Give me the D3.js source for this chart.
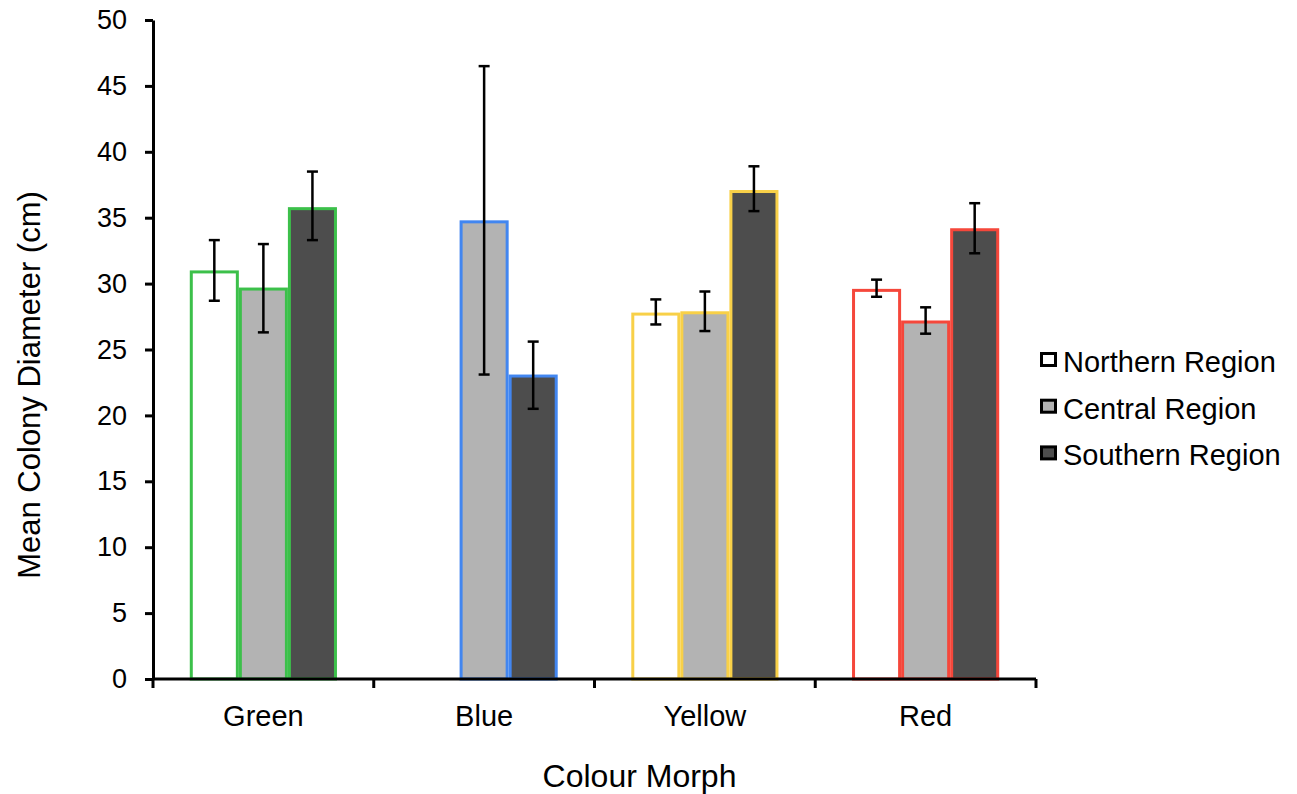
<!DOCTYPE html>
<html><head><meta charset="utf-8">
<script src="https://cdn.jsdelivr.net/npm/d3@7"></script>
<style>body{margin:0;background:#fff}svg{font-family:"Liberation Sans",Arial,sans-serif}</style>
</head><body><svg id="c" width="1297" height="794"></svg>
<script>
const categories = ["Green","Blue","Yellow","Red"];
const outlineColors = ["#3cc04a","#4286f0","#f8d048","#f5473b"];
const regions = ["Northern Region","Central Region","Southern Region"];
const regionFills = ["#ffffff","#b3b3b3","#4d4d4d"];
const northern = [31.0, null, 27.8, 29.6];
const central  = [29.7, 34.8, 27.9, 27.2];
const southern = [35.8, 23.1, 37.1, 34.2];
const northernLo = [28.7, null, 26.9, 29.0];
const northernHi = [33.3, null, 28.8, 30.3];
const centralLo  = [26.3, 23.1, 26.4, 26.2];
const centralHi  = [33.0, 46.5, 29.4, 28.2];
const southernLo = [33.3, 20.5, 35.5, 32.3];
const southernHi = [38.5, 25.6, 38.9, 36.1];
const yTicks = [0,5,10,15,20,25,30,35,40,45,50];

const svg = d3.select("#c");
const m = {l:153, r:1036, t:20, b:679};
const x = d3.scaleBand().domain(categories).range([m.l, m.r]).paddingInner(0).paddingOuter(0);
const xs = d3.scaleBand().domain(regions).range([0, x.bandwidth()]).paddingOuter(0.75).paddingInner(0);
const y = d3.scaleLinear().domain([0,50]).range([m.b, m.t]);

const series = [
  {v:northern, lo:northernLo, hi:northernHi},
  {v:central, lo:centralLo, hi:centralHi},
  {v:southern, lo:southernLo, hi:southernHi}
];

const g = svg.append("g");
series.forEach((s, si) => {
  categories.forEach((c, ci) => {
    if (s.v[ci] == null) return;
    const bx = x(c) + xs(regions[si]);
    g.append("rect")
      .attr("x", bx + 1.5).attr("y", y(s.v[ci]) + 1.5)
      .attr("width", xs.bandwidth() - 3).attr("height", y(0) - y(s.v[ci]) - 1.5)
      .attr("fill", regionFills[si]).attr("stroke", outlineColors[ci]).attr("stroke-width", 3);
  });
});
// error bars
series.forEach((s, si) => {
  categories.forEach((c, ci) => {
    if (s.v[ci] == null) return;
    const cx = x(c) + xs(regions[si]) + xs.bandwidth()/2;
    const eg = g.append("g").attr("stroke","#000").attr("stroke-width",2.5);
    eg.append("line").attr("x1",cx).attr("x2",cx).attr("y1",y(s.lo[ci])).attr("y2",y(s.hi[ci]));
    [s.lo[ci], s.hi[ci]].forEach(v => eg.append("line").attr("x1",cx-5.5).attr("x2",cx+5.5).attr("y1",y(v)).attr("y2",y(v)));
  });
});

// y axis
const ya = svg.append("g").attr("transform",`translate(${m.l},0)`)
  .call(d3.axisLeft(y).tickValues(yTicks).tickSize(8).tickSizeOuter(0).tickPadding(18));
ya.select(".domain").attr("stroke","#000").attr("stroke-width",3);
ya.selectAll(".tick line").attr("stroke","#000").attr("stroke-width",3);
ya.selectAll(".tick text").attr("font-size",27).attr("fill","#000").attr("font-family","Liberation Sans, Arial, sans-serif");

// x axis
const xa = svg.append("g").attr("transform",`translate(0,${m.b})`)
  .call(d3.axisBottom(x).tickSize(0));
xa.select(".domain").attr("stroke","#000").attr("stroke-width",3).attr("d",`M${m.l},0H${m.r}`);
xa.selectAll(".tick text").attr("font-size",29).attr("fill","#000").attr("y",47).attr("dy",0)
  .attr("font-family","Liberation Sans, Arial, sans-serif");
const bounds = categories.map(c => x(c)).concat([x(categories[categories.length-1]) + x.bandwidth()]);
xa.selectAll(".bt").data(bounds).enter().append("line")
  .attr("x1",d=>d).attr("x2",d=>d).attr("y1",0).attr("y2",9).attr("stroke","#000").attr("stroke-width",3);

// titles
svg.append("text").attr("x",639.5).attr("y",787).attr("text-anchor","middle")
  .attr("font-size",32).text("Colour Morph");
svg.append("text").attr("transform",`translate(40,385) rotate(-90)`).attr("text-anchor","middle")
  .attr("font-size",31).text("Mean Colony Diameter (cm)");

// legend
const lg = svg.append("g").attr("transform","translate(1040,0)");
regions.forEach((r,i) => {
  const yy = 352 + i*46.7;
  lg.append("rect").attr("x",1.5).attr("y",yy+1.5).attr("width",14).attr("height",12)
    .attr("fill",regionFills[i]).attr("stroke","#000").attr("stroke-width",3);
  lg.append("text").attr("x",23).attr("y",yy+20).attr("font-size",29).text(r);
});
</script></body></html>
